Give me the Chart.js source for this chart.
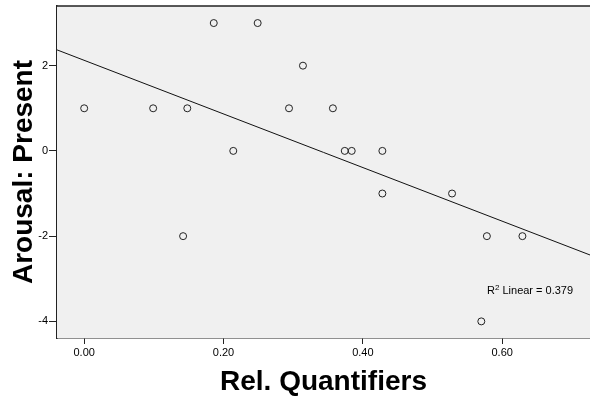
<!DOCTYPE html>
<html>
<head>
<meta charset="utf-8">
<script src="https://cdn.jsdelivr.net/npm/chart.js@4"></script>
<style>
  html, body { margin: 0; padding: 0; background: #fff; }
  #wrap { width: 590px; height: 396px; }
</style>
</head>
<body>
<div id="wrap"><canvas id="scatter"></canvas></div>
<script>
// values
const relQuantifiers = [0.000, 0.099, 0.148, 0.142, 0.186, 0.214, 0.249, 0.294, 0.314,
                        0.357, 0.374, 0.384, 0.428, 0.428, 0.528, 0.578, 0.629, 0.570];
const arousalPresent = [1, 1, 1, -2, 3, 0, 3, 1, 2,
                        1, 0, 0, 0, -1, -1, -2, -2, -4];
const xTicks = [0, 0.2, 0.4, 0.6];
const yTicks = [-4, -2, 0, 2];
const xRange = [-0.039, 0.726];
const yRange = [-4.39, 3.40];
const r2Text = '0.379';

// least squares fit line
function linFit(xs, ys) {
  const n = xs.length;
  const mx = xs.reduce((a, b) => a + b, 0) / n;
  const my = ys.reduce((a, b) => a + b, 0) / n;
  let sxy = 0, sxx = 0;
  xs.forEach((x, i) => { sxy += (x - mx) * (ys[i] - my); sxx += (x - mx) * (x - mx); });
  const b = sxy / sxx;
  return { a: my - b * mx, b: b };
}
const fit = linFit(relQuantifiers, arousalPresent);
const fitLine = xRange.map(x => ({ x: x, y: fit.a + fit.b * x }));

const points = relQuantifiers.map((x, i) => ({ x: x, y: arousalPresent[i] }));

// plot background, top frame line and R² note
const plotDecor = {
  id: 'plotDecor',
  beforeDatasetsDraw(chart) {
    const { ctx, chartArea: a } = chart;
    ctx.save();
    ctx.fillStyle = '#f0f0f0';
    ctx.fillRect(a.left, a.top, a.right - a.left, a.bottom - a.top);
    ctx.strokeStyle = '#222';
    ctx.lineWidth = 1.5;
    ctx.beginPath();
    ctx.moveTo(a.left, a.top);
    ctx.lineTo(a.right, a.top);
    ctx.stroke();
    ctx.restore();
  },
  afterDatasetsDraw(chart) {
    const { ctx } = chart;
    ctx.save();
    ctx.fillStyle = '#000';
    ctx.textBaseline = 'alphabetic';
    ctx.font = '11px "Liberation Sans", Arial, sans-serif';
    const x0 = 487, y0 = 294;
    ctx.fillText('R', x0, y0);
    const w = ctx.measureText('R').width;
    ctx.font = '8px "Liberation Sans", Arial, sans-serif';
    ctx.fillText('2', x0 + w, y0 - 4);
    const w2 = ctx.measureText('2').width;
    ctx.font = '11px "Liberation Sans", Arial, sans-serif';
    ctx.fillText(' Linear = ' + r2Text, x0 + w + w2, y0);
    ctx.restore();
  }
};

const tickFont = { family: '"Liberation Sans", Arial, sans-serif', size: 11 };
const titleFont = { family: '"Liberation Sans", Arial, sans-serif', size: 28, weight: 'bold', lineHeight: 1 };

new Chart(document.getElementById('scatter'), {
  type: 'scatter',
  data: {
    datasets: [
      {
        data: points,
        pointRadius: 3.5,
        pointHoverRadius: 3.5,
        pointBorderWidth: 1,
        pointBorderColor: '#222',
        pointBackgroundColor: 'rgba(0,0,0,0)'
      },
      {
        type: 'line',
        data: fitLine,
        borderColor: '#111',
        borderWidth: 1,
        pointRadius: 0,
        fill: false
      }
    ]
  },
  options: {
    responsive: true,
    maintainAspectRatio: false,
    animation: false,
    layout: { autoPadding: false, padding: { top: 6, right: 0, left: 0, bottom: 0 } },
    plugins: { legend: { display: false }, tooltip: { enabled: false } },
    scales: {
      x: {
        type: 'linear',
        min: xRange[0],
        max: xRange[1],
        afterBuildTicks: s => { s.ticks = xTicks.map(v => ({ value: v })); },
        afterFit: s => { s.height = 58; s.paddingLeft = 0; s.paddingRight = 0; },
        border: { color: '#222', width: 1.5 },
        grid: { drawOnChartArea: false, drawTicks: true, tickLength: 6, color: '#222', lineWidth: 1 },
        ticks: { color: '#000', font: tickFont, padding: 2, maxRotation: 0,
                 callback: v => v.toFixed(2) },
        title: { display: true, text: 'Rel. Quantifiers', color: '#000', font: titleFont,
                 padding: { top: 0, bottom: 0 } }
      },
      y: {
        type: 'linear',
        min: yRange[0],
        max: yRange[1],
        afterBuildTicks: s => { s.ticks = yTicks.map(v => ({ value: v })); },
        afterFit: s => { s.width = 57; s.paddingTop = 0; s.paddingBottom = 0; },
        border: { color: '#222', width: 1.5 },
        grid: { drawOnChartArea: false, drawTicks: true, tickLength: 8, color: '#222', lineWidth: 1 },
        ticks: { color: '#000', font: tickFont, padding: 1, callback: v => String(v) },
        title: { display: true, text: 'Arousal: Present', color: '#000', font: titleFont,
                 padding: { top: 10, bottom: 0 } }
      }
    }
  },
  plugins: [plotDecor]
});
</script>
</body>
</html>
